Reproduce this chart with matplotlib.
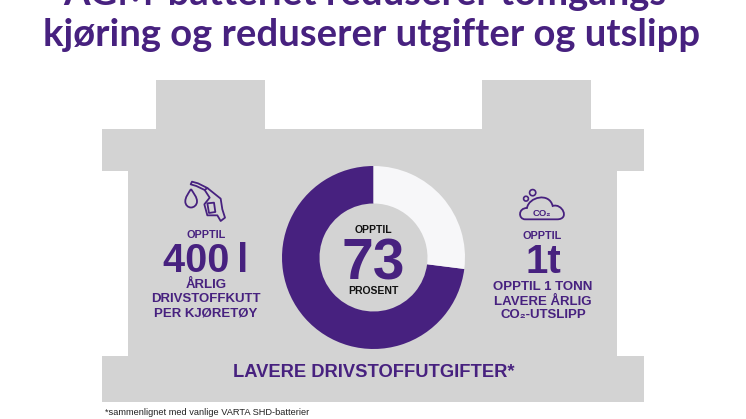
import matplotlib
matplotlib.use("Agg")
import matplotlib.pyplot as plt
from matplotlib.patches import Polygon, Circle, PathPatch
from matplotlib.path import Path

W, H = 746, 419
PURPLE = "#47217f"
GRAY = "#d3d3d3"
LIGHT = "#f7f7f9"

title_lines = ["AGM-batteriet reduserer tomgangs-", "kjøring og reduserer utgifter og utslipp"]
donut_labels = ["Lavere", "Resten"]
donut_values = [73, 27]
left_big = "400\u2009l"
right_big = "1t"
center_big = "73"
left_lines = ["ÅRLIG", "DRIVSTOFFKUTT", "PER KJØRETØY"]
right_lines = ["OPPTIL 1 TONN", "LAVERE ÅRLIG", "CO₂-UTSLIPP"]
footer = "LAVERE DRIVSTOFFUTGIFTER*"
footnote = "*sammenlignet med vanlige VARTA SHD-batterier"

fig = plt.figure(figsize=(W / 100, H / 100), dpi=100, facecolor="white")
ax = fig.add_axes([0, 0, 1, 1])
HS = "Liberation Sans"


def P(x, y):
    return (x, H - y)


battery = [(102, 129), (155.5, 129), (155.5, 80.5), (265, 80.5), (265, 129), (481.5, 129),
           (481.5, 80.5), (590.5, 80.5), (590.5, 129), (644, 129), (644, 171.5), (617, 171.5),
           (617, 356), (644, 356), (644, 401.5), (102, 401.5), (102, 356), (128, 356),
           (128, 171.5), (102, 171.5)]
ax.add_patch(Polygon([P(*p) for p in battery], closed=True, fc=GRAY, ec="none"))

# purple runs anticlockwise from 12 o'clock, the light slice clockwise
ax.pie(donut_values, colors=[PURPLE, LIGHT], startangle=90, counterclock=True,
       center=P(373.5, 257.5), radius=91.5, wedgeprops=dict(width=37.5, linewidth=0))
ax.set_xlim(0, W)
ax.set_ylim(0, H)
ax.set_aspect("auto")
ax.axis("off")


def T(x, y, s, size, color=PURPLE, family=HS, weight="bold", ha="center", va="center_baseline", **kw):
    ax.text(x, H - y, s, fontsize=size, color=color, family=family, weight=weight,
            ha=ha, va=va, **kw)


for s, y in zip(title_lines, (5, 46)):
    T(371.5, y, s, 27.5, family="Lato", va="baseline")

T(206, 234, "OPPTIL", 7.8)
T(206, 257, left_big, 28.5)
for s, y in zip(left_lines, (283, 298, 312)):
    T(206, y, s, 9.5)

T(542, 235, "OPPTIL", 7.8)
T(543.5, 258, right_big, 29)
for s, y in zip(right_lines, (286, 300, 314)):
    T(543, y, s, 9.5, family=[HS, "DejaVu Sans"])

T(373, 229, "OPPTIL", 7.5, color="#111111")
T(373, 258.5, center_big, 41)
T(373, 290, "PROSENT", 7.5, color="#111111")

T(374, 370.5, footer, 13.2)
T(105, 411.5, footnote, 6.7, color="#222222", weight="normal", ha="left")

C4, M, L = Path.CURVE4, Path.MOVETO, Path.LINETO


def zn(u, v):
    return (178 + u / 3, 176 + v / 3)


def zc(u, v):
    return (512 + u / 3, 182 + v / 3)


def line(points, lw=1.3, closed=False):
    ax.add_patch(Polygon([P(*p) for p in points], closed=closed, fc="none", ec=PURPLE, lw=lw,
                         joinstyle="round"))


def curve(verts, codes, lw=1.3):
    ax.add_patch(PathPatch(Path([P(*v) for v in verts], codes), fc="none", ec=PURPLE, lw=lw))


# drop
curve([(191, 189), (188, 194), (185.3, 197), (185.3, 201.5), (185.3, 205), (188, 207.5), (191, 207.5),
       (194, 207.5), (197, 205), (197, 201.5), (197, 197), (194, 194), (191, 189)],
      [M] + [C4] * 12)
# hose
line([zn(*p) for p in [(42, 17), (60, 22), (88, 36), (80, 42), (55, 30), (38, 25)]], closed=True)
# pump nozzle
line([zn(*p) for p in [(88, 36), (128, 68), (133, 100), (141, 125), (128, 135), (118, 118),
                       (88, 118), (79, 85), (95, 65), (80, 42)]], closed=False)
line([zn(*p) for p in [(88, 82), (108, 80), (112, 108), (93, 111)]], closed=True)

# cloud
curve([zc(*p) for p in [(40, 112), (18, 112), (18, 78), (45, 78), (50, 45), (112, 30), (122, 72),
                        (150, 62), (175, 112), (135, 112), (40, 112)]],
      [M] + [C4] * 9 + [L], lw=1.3)
ax.add_patch(Circle(P(*zc(42, 50)), 2.4, fc="none", ec=PURPLE, lw=1.2))
ax.add_patch(Circle(P(*zc(62, 32)), 3.1, fc="none", ec=PURPLE, lw=1.2))
T(541.5, 212.7, "CO₂", 6.8, family=[HS, "DejaVu Sans"])

fig.savefig("out.png", dpi=100)
